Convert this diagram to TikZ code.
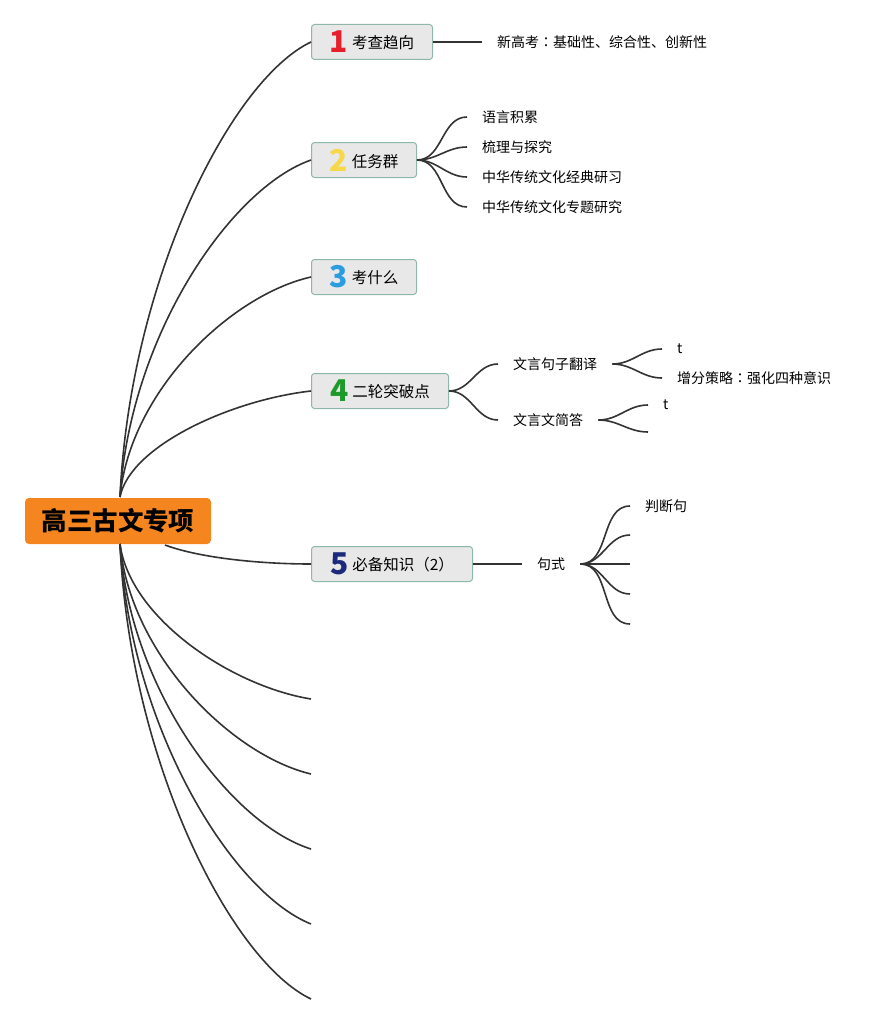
\documentclass[tikz,border=0pt]{standalone}
\usepackage{fontspec}
\setmainfont{Noto Sans CJK SC}
\newfontfamily\jpfont{Noto Sans CJK JP}
\usepackage{tikz}
\definecolor{rootfill}{HTML}{F5861F}
\definecolor{boxfill}{HTML}{E8E8E8}
\definecolor{boxline}{HTML}{8DB8A8}
\definecolor{linkcol}{HTML}{333333}
\definecolor{numA}{HTML}{E5202C}
\definecolor{numB}{HTML}{F6D84A}
\definecolor{numC}{HTML}{2A9DE0}
\definecolor{numD}{HTML}{1E9A2B}
\definecolor{numE}{HTML}{1C2A7B}
\newcommand{\bignum}[2]{\raisebox{-4pt}{\textcolor{#1}{\fontsize{30}{30}\selectfont\bfseries #2}}\hspace{4pt}}
\newcommand{\wcolon}{{\jpfont ：}}
\tikzset{
  rootbox/.style={fill=rootfill,rounded corners=4pt,minimum width=186pt,minimum height=46pt,
    font=\fontsize{25.5}{28}\selectfont\bfseries,text=black},
  topic/.style={anchor=west,fill=boxfill,draw=boxline,line width=1pt,rounded corners=3pt,
    minimum height=35pt,inner xsep=0pt,font=\fontsize{15.5}{18}\selectfont,text=black},
  leaf/.style={anchor=west,inner xsep=15pt,inner ysep=2pt,font=\fontsize{14}{16}\selectfont,text=black},
  link/.style={draw=linkcol,line width=1.6pt}
}

\begin{document}
\begin{tikzpicture}[x=1pt,y=-1pt]
\useasboundingbox (0,0) rectangle (891,1025);

\node[rootbox] (root) at (118,521) {高三古文专项};

\node[topic,minimum width=121pt] (T1) at (311,42) {\bignum{numA}{1}考查趋向};
\node[topic,minimum width=105pt] (T2) at (311,160) {\bignum{numB}{2}任务群};
\node[topic,minimum width=105pt] (T3) at (311,277) {\bignum{numC}{3}考什么};
\node[topic,minimum width=137pt] (T4) at (311,391) {\bignum{numD}{4}二轮突破点};
\node[topic,minimum width=161pt] (T5) at (311,564) {\bignum{numE}{5}必备知识（2）};

\coordinate (top) at (120,497);
\coordinate (bot) at (120,544);
\coordinate (side) at (165,545);

\draw[link] (top) .. controls (130,280) and (231,80) .. (T1.west);
\draw[link] (top) .. controls (130,335) and (231,188) .. (T2.west);
\draw[link] (top) .. controls (130,391) and (231,295) .. (T3.west);
\draw[link] (top) .. controls (130,446) and (231,400) .. (T4.west);
\draw[link] (side) .. controls (200,558) and (260,564) .. (T5.west);

\coordinate (L1) at (311,699);
\coordinate (L2) at (311,774);
\coordinate (L3) at (311,849);
\coordinate (L4) at (311,924);
\coordinate (L5) at (311,999);
\draw[link] (bot) .. controls (130,618) and (231,686) .. (L1);
\draw[link] (bot) .. controls (130,654) and (231,755) .. (L2);
\draw[link] (bot) .. controls (130,690) and (231,824) .. (L3);
\draw[link] (bot) .. controls (130,726) and (231,892) .. (L4);
\draw[link] (bot) .. controls (130,762) and (231,961) .. (L5);

% branch 1
\node[leaf] (trend) at (482,42) {新高考\wcolon 基础性、综合性、创新性};
\draw[link] (T1.east) -- (trend.west);

% branch 2
\node[leaf] (g1) at (467,117) {语言积累};
\node[leaf] (g2) at (467,147) {梳理与探究};
\node[leaf] (g3) at (467,177) {中华传统文化经典研习};
\node[leaf] (g4) at (467,207) {中华传统文化专题研究};
\foreach \g in {g1,g2,g3,g4}
  \draw[link] (T2.east) to[out=0,in=180] (\g.west);

% branch 4
\node[leaf] (trans) at (498,364) {文言句子翻译};
\node[leaf] (short) at (498,420) {文言文简答};
\draw[link] (T4.east) to[out=0,in=180] (trans.west);
\draw[link] (T4.east) to[out=0,in=180] (short.west);
\node[leaf] (transA) at (662,349) {t};
\node[leaf] (transB) at (662,378) {增分策略\wcolon 强化四种意识};
\draw[link] (trans.east) to[out=0,in=180] (transA.west);
\draw[link] (trans.east) to[out=0,in=180] (transB.west);
\node[leaf] (shortA) at (648,405) {t};
\coordinate (shortB) at (648,432);
\draw[link] (short.east) to[out=0,in=180] (shortA.west);
\draw[link] (short.east) to[out=0,in=180] (shortB);

% branch 5
\node[leaf] (form) at (522,564) {句式};
\draw[link] (T5.east) -- (form.west);
\node[leaf] (judge) at (630,506) {判断句};
\coordinate (f2) at (630,535);
\coordinate (f3) at (630,564);
\coordinate (f4) at (630,594);
\coordinate (f5) at (630,624);
\draw[link] (form.east) to[out=0,in=180] (judge.west);
\foreach \f in {f2,f3,f4,f5}
  \draw[link] (form.east) to[out=0,in=180] (\f);
\end{tikzpicture}
\end{document}
